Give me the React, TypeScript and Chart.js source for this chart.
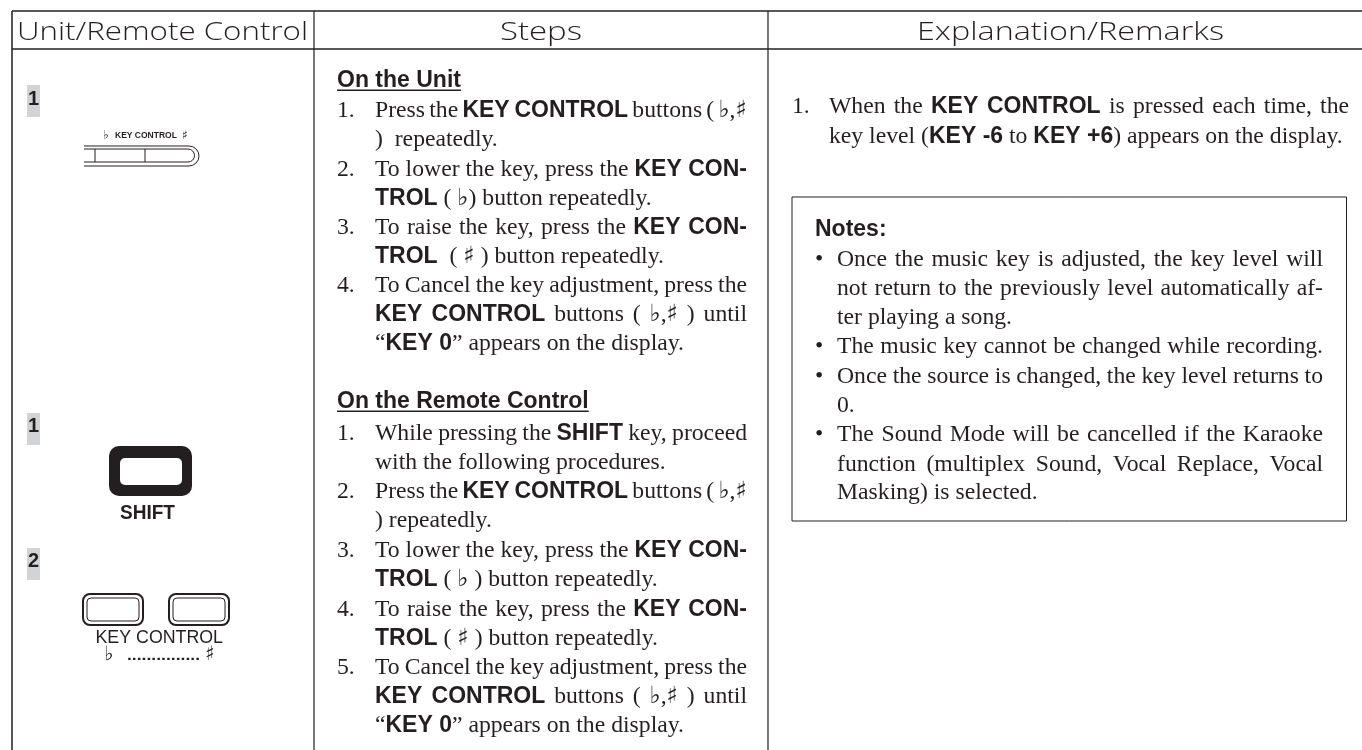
import React, { useEffect, useRef } from "react";
import { Chart, registerables } from "chart.js";
Chart.register(...registerables);

const headers = ["Unit/Remote Control", "Steps", "Explanation/Remarks"];
const headingUnit = "On the Unit";
const headingRemote = "On the Remote Control";
const notesTitle = "Notes:";
const stepTagLabels = ["1", "1", "2"];

const unitSteps = [
  "1.|Press the *KEY CONTROL* buttons ( ♭,♯",
  "|)  repeatedly.",
  "2.|To lower the key, press the *KEY CON-*",
  "|*TROL* ( ♭) button repeatedly.",
  "3.|To raise the key, press the *KEY CON-*",
  "|*TROL*  ( ♯ ) button repeatedly.",
  "4.|To Cancel the key adjustment, press the",
  "|*KEY CONTROL* buttons ( ♭,♯ ) until",
  "|“*KEY 0*” appears on the display.",
];
const remoteSteps = [
  "1.|While pressing the *SHIFT* key, proceed",
  "|with the following procedures.",
  "2.|Press the *KEY CONTROL* buttons ( ♭,♯",
  "|) repeatedly.",
  "3.|To lower the key, press the *KEY CON-*",
  "|*TROL* ( ♭ ) button repeatedly.",
  "4.|To raise the key, press the *KEY CON-*",
  "|*TROL* ( ♯ ) button repeatedly.",
  "5.|To Cancel the key adjustment, press the",
  "|*KEY CONTROL* buttons ( ♭,♯ ) until",
  "|“*KEY 0*” appears on the display.",
];
const remarks = [
  "1.|When the *KEY CONTROL* is pressed each time, the",
  "|key level (*KEY -6* to *KEY +6*) appears on the display.",
];
const notes = [
  "•|Once the music key is adjusted, the key level will",
  "|not return to the previously level automatically af-",
  "|ter playing a song.",
  "•|The music key cannot be changed while recording.",
  "•|Once the source is changed, the key level returns to",
  "|0.",
  "•|The Sound Mode will be cancelled if the Karaoke",
  "|function (multiplex Sound, Vocal Replace, Vocal",
  "|Masking) is selected.",
];

// page layout, in the 1362 x 750 page units of the two hidden scales
const PAGE_W = 1362, PAGE_H = 750;
const colEdges = [12, 314, 768];
const rowEdges = [11, 49];
const notesBox = [792, 197, 1346.5, 521];
const unitBaselines = [117, 146, 176, 205, 234, 263, 292, 321, 350];
const remoteBaselines = [440, 469, 498, 527, 557, 586, 616, 645, 674, 703, 732];
const remarkBaselines = [113, 143];
const noteBaselines = [266, 295, 324, 353, 383, 412, 441, 471, 499];
const justifiedUnit = [1, 0, 1, 0, 1, 0, 1, 1, 0];
const justifiedRemote = [1, 0, 1, 0, 1, 0, 1, 0, 1, 1, 0];
const justifiedRemarks = [1, 0];
const justifiedNotes = [1, 1, 0, 1, 1, 0, 1, 1, 0];

const INK = "#231f20";
const SERIF = "'Liberation Serif'";
const SANS = "'Liberation Sans'";
const BODY = 23.7;

type Tok = { t: string; font: string; space: boolean };

function tokenize(s: string, size: number): Tok[] {
  const out: Tok[] = [];
  let bold = false;
  let buf = "";
  const cur = () => (bold ? `bold ${size - 0.7}px ${SANS}` : `${size}px ${SERIF}`);
  const flush = () => {
    if (buf) out.push({ t: buf, font: cur(), space: false });
    buf = "";
  };
  for (const ch of s) {
    if (ch === "*") { flush(); bold = !bold; }
    else if (ch === " ") { flush(); out.push({ t: " ", font: cur(), space: true }); }
    else if (ch === "♭" || ch === "♯") { flush(); out.push({ t: ch, font: `${size}px 'DejaVu Sans'`, space: false }); }
    else buf += ch;
  }
  flush();
  return out;
}

function drawLine(ctx: CanvasRenderingContext2D, s: string, x: number, y: number, right: number | null, size: number) {
  const toks = tokenize(s, size);
  let w = 0, spaces = 0;
  for (const k of toks) { ctx.font = k.font; w += ctx.measureText(k.t).width; if (k.space) spaces++; }
  const extra = right !== null && spaces ? (right - x - w) / spaces : 0;
  let cx = x;
  for (const k of toks) {
    ctx.font = k.font;
    if (!k.space) ctx.fillText(k.t, cx, y);
    cx += ctx.measureText(k.t).width + (k.space ? extra : 0);
  }
}

function drawBlock(ctx: CanvasRenderingContext2D, lines: string[], baselines: number[], just: number[], numX: number, textX: number, right: number, size: number) {
  lines.forEach((line, i) => {
    const [num, body] = line.split("|");
    if (num) { ctx.font = `${size}px ${SERIF}`; ctx.fillText(num, numX, baselines[i]); }
    drawLine(ctx, body, textX, baselines[i], just[i] ? right : null, size);
  });
}

function fitText(ctx: CanvasRenderingContext2D, s: string, left: number, right: number, y: number, font: string) {
  ctx.save();
  ctx.font = font;
  const w = ctx.measureText(s).width;
  ctx.translate(left, y);
  ctx.scale((right - left) / w, 1);
  ctx.fillText(s, 0, 0);
  ctx.restore();
}

function rr(ctx: CanvasRenderingContext2D, x0: number, y0: number, x1: number, y1: number, r: number) {
  ctx.beginPath();
  ctx.roundRect(x0, y0, x1 - x0, y1 - y0, r);
}

const pagePlugin = {
  id: "page",
  afterDatasetsDraw(chart: any) {
    const ctx: CanvasRenderingContext2D = chart.ctx;
    ctx.save();
    ctx.fillStyle = INK;
    ctx.strokeStyle = INK;
    ctx.textBaseline = "alphabetic";

    // headers
    const hFont = "300 25px 'Open Sans'";
    fitText(ctx, headers[0], 17, 308, 40, hFont);
    fitText(ctx, headers[1], 500, 582, 40, hFont);
    fitText(ctx, headers[2], 917, 1224, 40, hFont);

    // headings
    ctx.font = `bold 23px ${SANS}`;
    ctx.fillText(headingUnit, 337, 87);
    ctx.fillText(headingRemote, 337, 408);
    ctx.fillRect(337, 89.5, ctx.measureText(headingUnit).width, 1.5);
    ctx.fillRect(337, 410.5, ctx.measureText(headingRemote).width, 1.5);

    drawBlock(ctx, unitSteps, unitBaselines, justifiedUnit, 337, 375, 747, BODY);
    drawBlock(ctx, remoteSteps, remoteBaselines, justifiedRemote, 337, 375, 747, BODY);
    drawBlock(ctx, remarks, remarkBaselines, justifiedRemarks, 792, 829, 1349, BODY);
    ctx.font = `bold 23px ${SANS}`;
    ctx.fillText(notesTitle, 815, 236);
    drawBlock(ctx, notes, noteBaselines, justifiedNotes, 815, 837, 1323, BODY);

    // step tags
    [[85, 105], [413, 432], [548, 567]].forEach(([top, base], i) => {
      ctx.fillStyle = "#d2d3d5";
      ctx.fillRect(27, top, 13, 32);
      ctx.fillStyle = INK;
      ctx.font = `bold 20px ${SANS}`;
      ctx.fillText(stepTagLabels[i], 28, base);
    });

    // unit key control strip
    ctx.font = `bold 8.5px ${SANS}`;
    ctx.fillText("KEY CONTROL", 115, 138);
    ctx.font = `12px 'DejaVu Sans'`;
    ctx.fillText("♭", 103, 139);
    ctx.fillText("♯", 182, 139);
    ctx.lineWidth = 1;
    ctx.beginPath();
    ctx.moveTo(84, 146); ctx.lineTo(189, 146); ctx.arc(189, 156, 10, -Math.PI / 2, Math.PI / 2); ctx.lineTo(84, 166);
    ctx.moveTo(84, 149); ctx.lineTo(188, 149); ctx.arc(188, 155.5, 6.5, -Math.PI / 2, Math.PI / 2); ctx.lineTo(84, 162);
    ctx.moveTo(95, 149); ctx.lineTo(95, 162);
    ctx.moveTo(145, 149); ctx.lineTo(145, 162);
    ctx.stroke();

    // shift button
    rr(ctx, 109, 446, 192, 496, 10); ctx.fill();
    ctx.fillStyle = "#fff";
    rr(ctx, 120, 458, 182, 485, 5); ctx.fill();
    ctx.fillStyle = INK;
    fitText(ctx, "SHIFT", 120, 175, 519, `bold 20.5px ${SANS}`);

    // remote key control buttons
    [83, 169].forEach((x) => {
      ctx.lineWidth = 2;
      rr(ctx, x, 594, x + 60, 625, 7); ctx.stroke();
      ctx.lineWidth = 1;
      rr(ctx, x + 4, 598, x + 56, 621, 4); ctx.stroke();
    });
    fitText(ctx, "KEY CONTROL", 95.5, 223, 643, `18.5px ${SANS}`);
    ctx.font = `20px 'DejaVu Sans'`;
    ctx.fillText("♭", 104, 660);
    ctx.fillText("♯", 205, 660);
    fitText(ctx, "...............", 127, 200, 660, `bold 14px ${SANS}`);
    ctx.restore();
  },
};

const seg = (x0: number, y0: number, x1: number, y1: number) => [{ x: x0, y: y0 }, { x: x1, y: y1 }];
const rule = (data: { x: number; y: number }[], width: number, color = INK) => ({
  data, showLine: true, borderWidth: width, borderColor: color, pointRadius: 0, fill: false, tension: 0,
});

export default function App() {
  const ref = useRef<HTMLCanvasElement>(null);
  useEffect(() => {
    document.body.style.margin = "0";
    document.body.style.background = "#fff";
    const [bx0, by0, bx1, by1] = notesBox;
    const chart = new Chart(ref.current!, {
      type: "scatter",
      data: {
        datasets: [
          ...rowEdges.map((y) => rule(seg(colEdges[0], y, PAGE_W, y), 1.5)),
          ...colEdges.map((x, i) => rule(seg(x, rowEdges[0], x, PAGE_H), i === 0 ? 1.5 : 1.2)),
          rule([{ x: bx0, y: by0 }, { x: bx1, y: by0 }, { x: bx1, y: by1 }, { x: bx0, y: by1 }, { x: bx0, y: by0 }], 1),
        ] as any,
      },
      options: {
        animation: false,
        responsive: false,
        devicePixelRatio: 1,
        layout: { padding: 0 },
        plugins: { legend: { display: false }, tooltip: { enabled: false } },
        scales: {
          x: { type: "linear", display: false, min: 0, max: PAGE_W },
          y: { type: "linear", display: false, min: 0, max: PAGE_H, reverse: true },
        },
      },
      plugins: [pagePlugin],
    });
    return () => chart.destroy();
  }, []);
  return <canvas ref={ref} width={PAGE_W} height={PAGE_H} style={{ display: "block" }} />;
}
